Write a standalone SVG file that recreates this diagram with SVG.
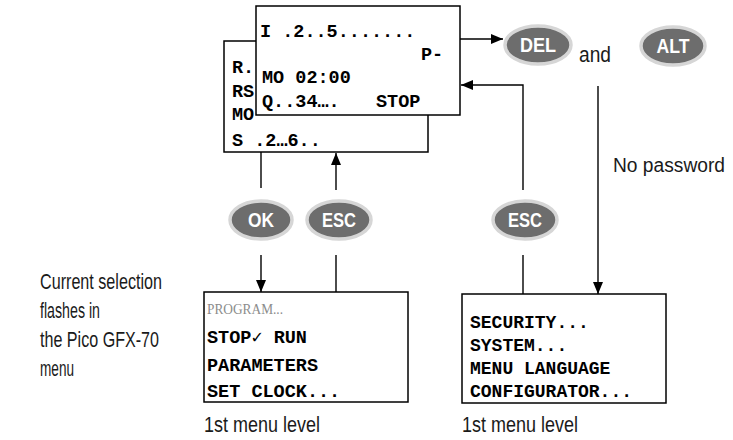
<svg xmlns="http://www.w3.org/2000/svg" width="733" height="440" viewBox="0 0 733 440">
<style>
.box{fill:#fff;stroke:#000;stroke-width:1.5}
.mono{font-family:"Liberation Mono","DejaVu Sans Mono",monospace;font-weight:bold;font-size:18.5px;fill:#000}
.mono2{font-family:"Liberation Mono","DejaVu Sans Mono",monospace;font-weight:bold;font-size:18px;fill:#000}
.grey{font-family:"Liberation Serif",serif;font-size:15px;fill:#8c8c8c}
.lbl{font-family:"Liberation Sans Narrow","Liberation Sans",sans-serif;font-size:22px;fill:#1a1a1a}
.key{fill:#6d6d6d;stroke:#d6d6d6;stroke-width:3.5}
.keyt{font-family:"Liberation Sans Narrow","Liberation Sans",sans-serif;font-weight:bold;font-size:20px;fill:#fff;text-anchor:middle}
.ln{fill:none;stroke:#000;stroke-width:1.4}
</style>
<defs>
<marker id="ah" viewBox="0 0 12 10" refX="12" refY="5" markerWidth="12" markerHeight="10" markerUnits="userSpaceOnUse" orient="auto">
<path d="M0,0 L12,5 L0,10 Z" fill="#000"/>
</marker>
</defs>

<g id="display-back">
<rect class="box" x="224" y="41" width="204" height="111"/>
<text class="mono" x="232" y="73">R..</text>
<text class="mono" x="232" y="97">RS</text>
<text class="mono" x="232" y="120">MO</text>
<text class="mono" x="232" y="146">S .2…6..</text>
</g>

<g id="display-front">
<rect class="box" x="256" y="6" width="204" height="109"/>
<text class="mono" x="260" y="37">I .2..5.......</text>
<text class="mono" x="421" y="60">P-</text>
<text class="mono" x="262" y="83">MO 02:00</text>
<text class="mono" x="262" y="107">Q..34….</text>
<text class="mono" x="376" y="107">STOP</text>
</g>

<g id="connectors">
<line class="ln" x1="460" y1="39" x2="503" y2="39" marker-end="url(#ah)"/>
<line class="ln" x1="598" y1="86" x2="598" y2="294" marker-end="url(#ah)"/>
<line class="ln" x1="523" y1="294" x2="523" y2="255"/>
<polyline class="ln" points="523,190 523,85 461,85" marker-end="url(#ah)"/>
<line class="ln" x1="261" y1="152" x2="261" y2="188"/>
<line class="ln" x1="261" y1="255" x2="261" y2="292" marker-end="url(#ah)"/>
<line class="ln" x1="336" y1="292" x2="336" y2="255"/>
<line class="ln" x1="336" y1="190" x2="336" y2="153" marker-end="url(#ah)"/>
</g>

<g id="key-del">
<ellipse class="key" cx="538" cy="45" rx="33" ry="19"/>
<text class="keyt" x="538" y="52" textLength="36" lengthAdjust="spacingAndGlyphs">DEL</text>
</g>
<g id="text-and">
<text class="lbl" x="579" y="62" textLength="32" lengthAdjust="spacingAndGlyphs">and</text>
</g>
<g id="key-alt">
<ellipse class="key" cx="673" cy="46" rx="32" ry="19"/>
<text class="keyt" x="673" y="53" textLength="33" lengthAdjust="spacingAndGlyphs">ALT</text>
</g>
<g id="text-nopassword">
<text class="lbl" x="613" y="172" style="font-size:20px" textLength="112" lengthAdjust="spacingAndGlyphs">No password</text>
</g>

<g id="key-ok">
<ellipse class="key" cx="261" cy="220" rx="31" ry="19"/>
<text class="keyt" x="261" y="227" textLength="26" lengthAdjust="spacingAndGlyphs">OK</text>
</g>
<g id="key-esc1">
<ellipse class="key" cx="339" cy="220" rx="32" ry="19"/>
<text class="keyt" x="339" y="227" textLength="34" lengthAdjust="spacingAndGlyphs">ESC</text>
</g>
<g id="key-esc2">
<ellipse class="key" cx="525" cy="220" rx="32" ry="19"/>
<text class="keyt" x="525" y="227" textLength="34" lengthAdjust="spacingAndGlyphs">ESC</text>
</g>

<g id="menu-left">
<rect class="box" x="204" y="292" width="204" height="110"/>
<text class="grey" x="207" y="314" textLength="76" lengthAdjust="spacingAndGlyphs">PROGRAM...</text>
<text class="mono" x="207" y="343">STOP✓ RUN</text>
<text class="mono" x="207" y="371">PARAMETERS</text>
<text class="mono" x="207" y="397">SET CLOCK...</text>
</g>

<g id="menu-right">
<rect class="box" x="462" y="294" width="204" height="109"/>
<text class="mono2" x="470" y="328">SECURITY...</text>
<text class="mono2" x="470" y="351">SYSTEM...</text>
<text class="mono2" x="470" y="374">MENU LANGUAGE</text>
<text class="mono2" x="470" y="397">CONFIGURATOR...</text>
</g>

<g id="caption-left">
<text class="lbl" x="40" y="289" textLength="122" lengthAdjust="spacingAndGlyphs">Current selection</text>
<text class="lbl" x="40" y="318" textLength="60" lengthAdjust="spacingAndGlyphs">flashes in</text>
<text class="lbl" x="40" y="347" textLength="119" lengthAdjust="spacingAndGlyphs">the Pico GFX-70</text>
<text class="lbl" x="40" y="376" textLength="34" lengthAdjust="spacingAndGlyphs">menu</text>
</g>

<g id="level-left">
<text class="lbl" x="204" y="432" textLength="116" lengthAdjust="spacingAndGlyphs">1st menu level</text>
</g>
<g id="level-right">
<text class="lbl" x="462" y="432" textLength="116" lengthAdjust="spacingAndGlyphs">1st menu level</text>
</g>
</svg>
